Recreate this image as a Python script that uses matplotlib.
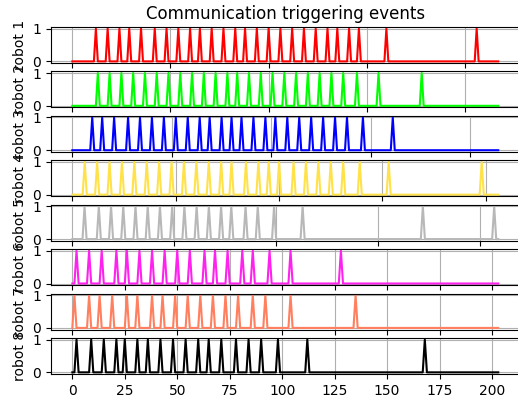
import numpy as np
import matplotlib.pyplot as plt

# event times (time steps at which each robot triggers a communication)
robots = ['robot 1', 'robot 2', 'robot 3', 'robot 4',
          'robot 5', 'robot 6', 'robot 7', 'robot 8']
colors = ['red', '#00ff00', 'blue', '#ffe24a',
          '#b8b8b8', '#ff22ee', '#ff7f5f', 'black']

# last time step of each robot's log
end_times = [217, 217, 214, 206, 209, 203, 203, 203]

events_1 = [12, 18, 24, 29, 35, 42, 48, 54, 60, 65, 71, 77, 83, 88, 94, 100,
            106, 112, 118, 124, 130, 135, 141, 146, 160, 206]
events_2 = [13, 19, 25, 31, 37, 43, 49, 55, 61, 67, 73, 79, 84, 90, 96, 102,
            108, 114, 120, 126, 132, 138, 145, 156, 178]
events_3 = [10, 15, 21, 28, 34, 40, 46, 52, 58, 64, 69, 75, 80, 85, 91, 97,
            102, 108, 114, 120, 126, 132, 138, 146, 161]
events_4 = [6, 12, 18, 24, 30, 36, 42, 48, 54, 60, 66, 72, 77, 84, 90, 95,
            100, 107, 113, 119, 125, 131, 139, 153, 198]
events_5 = [6, 13, 19, 25, 31, 37, 43, 49, 55, 61, 67, 73, 78, 85, 91, 99,
            113, 172, 207]
events_6 = [2, 8, 14, 21, 26, 32, 38, 44, 50, 56, 63, 68, 74, 81, 86, 94,
            104, 128]
events_7 = [1, 8, 13, 19, 26, 31, 38, 43, 49, 55, 61, 67, 73, 79, 86, 92,
            104, 135]
events_8 = [2, 9, 15, 21, 25, 31, 36, 42, 48, 54, 60, 65, 71, 78, 84, 90,
            98, 112, 168]

all_events = [events_1, events_2, events_3, events_4,
              events_5, events_6, events_7, events_8]

fig, axes = plt.subplots(8, 1, figsize=(5.18, 4.03), dpi=100)
fig.subplots_adjust(left=0.0985, right=1.003, top=0.933, bottom=0.072,
                    hspace=0.233)

for i, ax in enumerate(axes):
    t = np.arange(0, end_times[i] + 1)
    trig = np.zeros(len(t))
    trig[all_events[i]] = 1
    ax.plot(t, trig, color=colors[i])
    ax.set_yticks([0, 1])
    ax.set_ylabel(robots[i])
    ax.grid(True)
    if i < len(axes) - 1:
        ax.tick_params(labelbottom=False)

axes[0].set_title('Communication triggering events')

plt.savefig('out.png', dpi=100)
